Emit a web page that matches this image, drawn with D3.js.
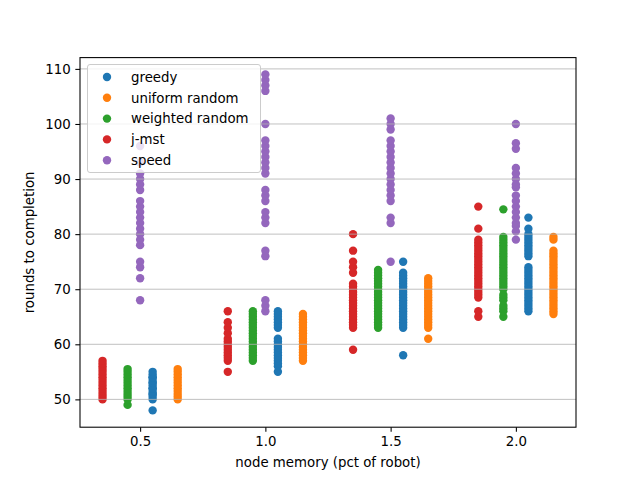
<!DOCTYPE html>
<html>
<head>
<meta charset="utf-8">
<script src="https://cdn.jsdelivr.net/npm/d3@7"></script>
<style>
  html, body { margin: 0; padding: 0; background: #fff; }
  svg { display: block; font-family: "DejaVu Sans", sans-serif; }
</style>
</head>
<body>
<svg id="chart" width="640" height="480"></svg>
<script>
// ---------------- data ----------------
const memoryLevels = [0.5, 1.0, 1.5, 2.0];
const xTickLabels = ["0.5", "1.0", "1.5", "2.0"];
const yTicks = [50, 60, 70, 80, 90, 100, 110];
const seriesNames = ["greedy", "uniform random", "weighted random", "j-mst", "speed"];
const seriesColors = ["#1f77b4", "#ff7f0e", "#2ca02c", "#d62728", "#9467bd"];
const seriesOffsets = [0.05, 0.15, -0.05, -0.15, 0.0];

// rounds to completion, one list per memory level
const greedy = [
  [48, 50, 50.5, 51, 51, 51.5, 52, 52, 52.5, 53, 53, 53.5, 54, 54, 54.5, 55],
  [55, 56, 56.5, 57, 57.5, 58, 58.5, 59, 59.5, 60, 60.5, 61, 63, 63.5, 64, 64.5, 65, 65.5, 66],
  [58, 63, 63.5, 64, 64.5, 65, 65.5, 66, 66.5, 67, 67.5, 68, 68.5, 69, 69.5, 70, 70.5, 71, 71.5, 72, 72.5, 73, 75],
  [66, 66.5, 67, 67.5, 68, 68.5, 69, 69.5, 70, 70.5, 71, 71.5, 72, 72.5, 73, 73.5, 74, 76, 76.5, 77, 77.5, 78, 78.5, 79, 79.5, 80, 81, 83]
];
const uniformRandom = [
  [50, 50.5, 51, 51.5, 52, 52.5, 53, 53.5, 54, 54.5, 55, 55.5],
  [57, 57.5, 58, 58.5, 59, 59.5, 60, 60.5, 61, 61.5, 62, 62.5, 63, 63.5, 64, 64.5, 65, 65.5],
  [61, 63, 63.5, 64, 64.5, 65, 65.5, 66, 66.5, 67, 67.5, 68, 68.5, 69, 69.5, 70, 70.5, 71, 71.5, 72],
  [65.5, 66, 66.5, 67, 67.5, 68, 68.5, 69, 69.5, 70, 70.5, 71, 71.5, 72, 72.5, 73, 73.5, 74, 74.5, 75, 75.5, 76, 76.5, 77, 79, 79.5]
];
const weightedRandom = [
  [49, 50, 50.5, 51, 51.5, 52, 52.5, 53, 53.5, 54, 54.5, 55, 55.5],
  [57, 57.5, 58, 58.5, 59, 59.5, 60, 60.5, 61, 61.5, 62, 62.5, 63, 63.5, 64, 64.5, 65, 65.5, 66],
  [63, 63.5, 64, 64.5, 65, 65.5, 66, 66.5, 67, 67.5, 68, 68.5, 69, 69.5, 70, 70.5, 71, 71.5, 72, 72.5, 73, 73.5],
  [65, 66, 66.5, 67, 68, 68.5, 69, 70, 70.5, 71, 71.5, 72, 72.5, 73, 73.5, 74, 74.5, 75, 75.5, 76, 76.5, 77, 77.5, 78, 78.5, 79, 79.5, 84.5]
];
const jMst = [
  [50, 50.5, 51, 51.5, 52, 52.5, 53, 53.5, 54, 54.5, 55, 55.5, 56, 56.5, 57],
  [55, 57, 57.5, 58, 58.5, 59, 59.5, 60, 60.5, 61, 62, 63, 64, 66],
  [59, 63, 63.5, 64, 64.5, 65, 65.5, 66, 66.5, 67, 67.5, 68, 68.5, 69, 69.5, 70, 70.5, 71, 73, 74, 75, 77, 80],
  [65, 66, 68.5, 69, 69.5, 70, 70.5, 71, 71.5, 72, 72.5, 73, 73.5, 74, 74.5, 75, 75.5, 76, 76.5, 77, 77.5, 78, 78.5, 79, 81, 85]
];
const speed = [
  [68, 72, 74, 75, 78, 79, 80, 81, 82, 83, 84, 85, 86, 88, 89, 90, 91, 93, 96],
  [66, 67, 68, 76, 77, 82, 83, 84, 86, 87, 88, 91, 92, 93, 94, 95, 96, 97, 100, 106, 107, 108, 109],
  [75, 82, 83, 86, 87, 88, 89, 90, 91, 92, 93, 94, 95, 96, 97, 99, 100, 101],
  [79, 80.5, 81.5, 82, 83, 84, 85, 86, 87, 88.5, 89, 90, 91, 92, 95.5, 96.5, 100]
];
const allSeries = [greedy, uniformRandom, weightedRandom, jMst, speed];

// ---------------- layout ----------------
const W = 640, H = 480;
const mLeft = 80, mRight = 576, mTop = 57.6, mBottom = 427.2;

const svg = d3.select("#chart");

const x = d3.scaleLinear().domain([0.26, 2.24]).range([mLeft, mRight]);
const y = d3.scaleLinear().domain([44.95, 112.05]).range([mBottom, mTop]);

// points
const pts = [];
allSeries.forEach((s, si) => {
  s.forEach((vals, mi) => {
    vals.forEach(v => pts.push({si, xv: memoryLevels[mi] + seriesOffsets[si], v}));
  });
});
svg.append("g").selectAll("circle").data(pts).join("circle")
  .attr("cx", d => x(d.xv))
  .attr("cy", d => y(d.v))
  .attr("r", 4.2)
  .attr("fill", d => seriesColors[d.si]);

// grid (drawn above markers, like matplotlib)
svg.append("g").selectAll("line").data(yTicks).join("line")
  .attr("x1", mLeft).attr("x2", mRight)
  .attr("y1", d => y(d)).attr("y2", d => y(d))
  .attr("stroke", "#b0b0b0").attr("stroke-width", 0.8);

// axes
const fontSize = "13.33px";
const xAxis = d3.axisBottom(x).tickValues(memoryLevels)
  .tickFormat((d, i) => xTickLabels[i]).tickSize(4.67).tickPadding(4.67);
const yAxis = d3.axisLeft(y).tickValues(yTicks).tickSize(4.67).tickPadding(4.67);

const gx = svg.append("g").attr("transform", `translate(0,${mBottom})`).call(xAxis);
const gy = svg.append("g").attr("transform", `translate(${mLeft},0)`).call(yAxis);
[gx, gy].forEach(g => {
  g.select(".domain").remove();
  g.selectAll(".tick line").attr("stroke", "#000").attr("stroke-width", 1.07);
  g.selectAll(".tick text").attr("fill", "#000").style("font-size", fontSize)
    .style("font-family", "'DejaVu Sans', sans-serif");
});

// frame
svg.append("rect").attr("x", mLeft).attr("y", mTop)
  .attr("width", mRight - mLeft).attr("height", mBottom - mTop)
  .attr("fill", "none").attr("stroke", "#000").attr("stroke-width", 1.07);

// axis labels
svg.append("text").attr("x", (mLeft + mRight) / 2).attr("y", 467)
  .attr("text-anchor", "middle").style("font-size", fontSize)
  .text("node memory (pct of robot)");
svg.append("text")
  .attr("transform", `translate(34,${(mTop + mBottom) / 2}) rotate(-90)`)
  .attr("text-anchor", "middle").style("font-size", fontSize)
  .text("rounds to completion");

// legend
const lg = svg.append("g");
lg.append("rect").attr("x", 87.5).attr("y", 64.5).attr("width", 173).attr("height", 108)
  .attr("rx", 2.5).attr("fill", "rgba(255,255,255,0.8)")
  .attr("stroke", "#cccccc").attr("stroke-width", 1);
seriesNames.forEach((name, i) => {
  const cy = 77 + i * 20.8;
  lg.append("circle").attr("cx", 107).attr("cy", cy).attr("r", 4.2).attr("fill", seriesColors[i]);
  lg.append("text").attr("x", 131).attr("y", cy + 4.8)
    .style("font-size", fontSize).text(name);
});
</script>
</body>
</html>
